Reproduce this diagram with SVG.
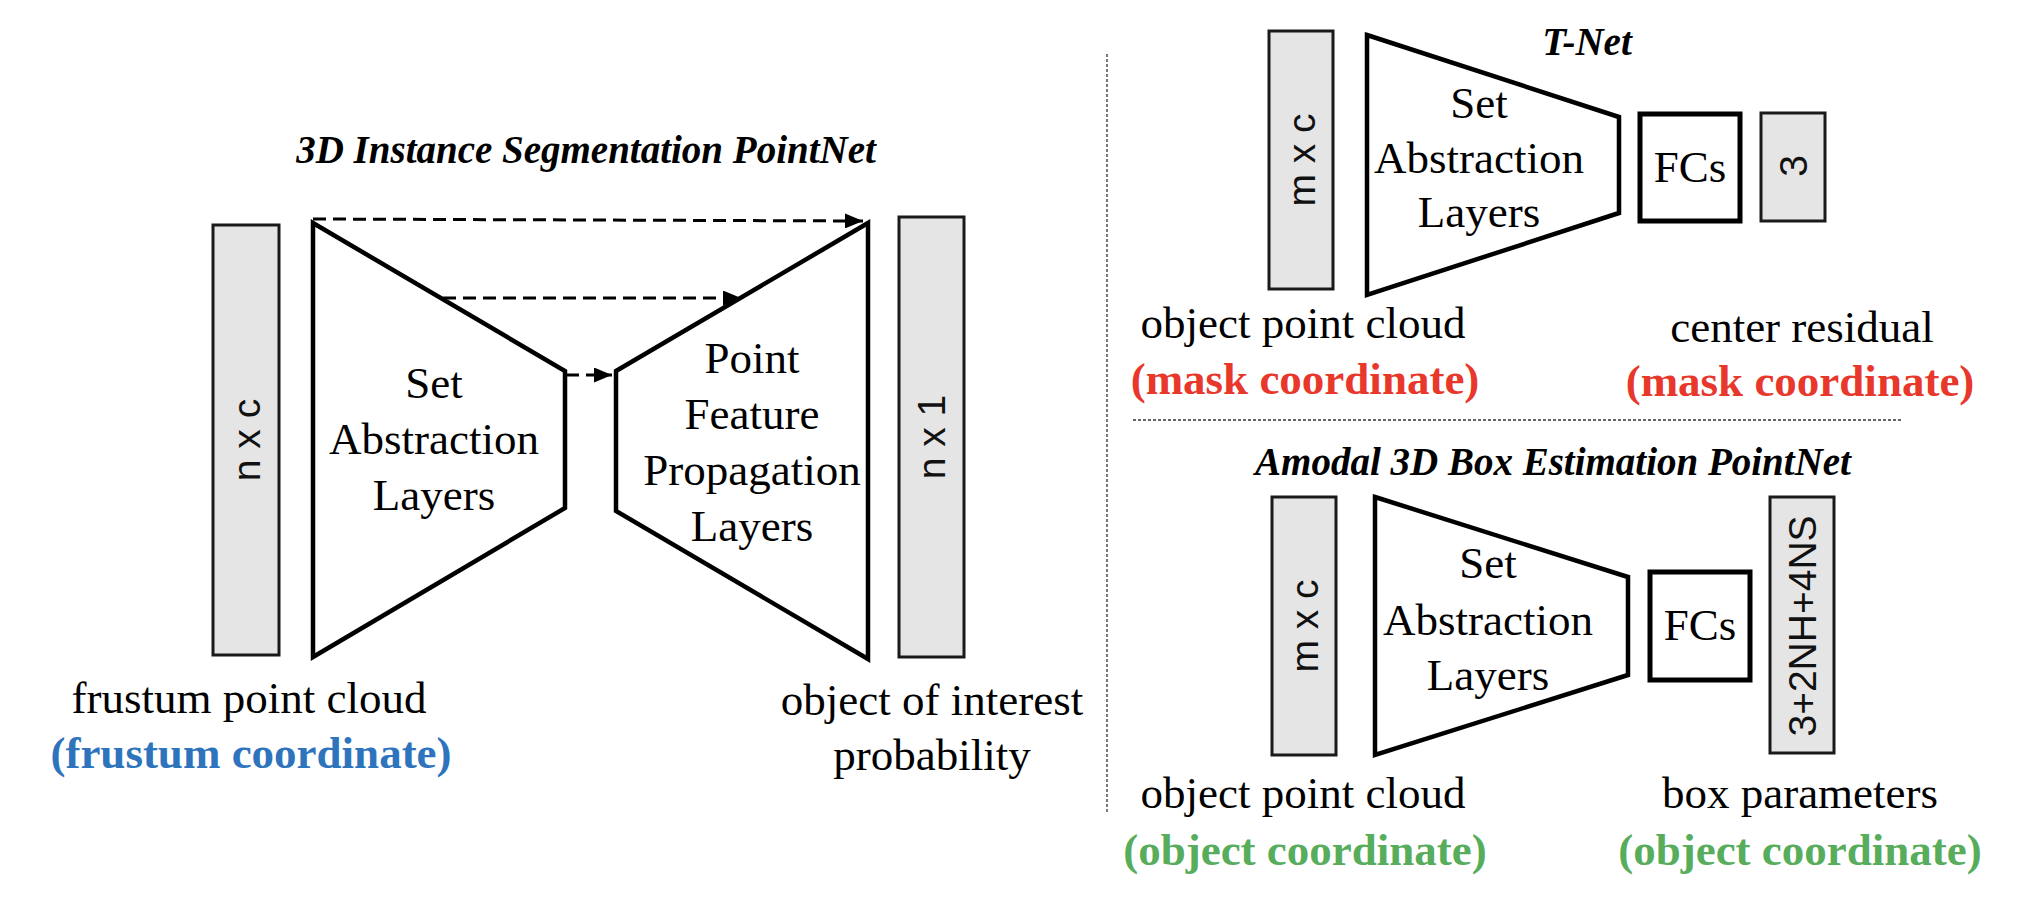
<svg xmlns="http://www.w3.org/2000/svg" width="2018" height="920" viewBox="0 0 2018 920">
<style>
.bg{fill:#ffffff}
.vec{fill:#e5e5e5;stroke:#1a1a1a;stroke-width:3}
.trap{fill:#ffffff;stroke:#000000;stroke-width:4.5;stroke-linejoin:miter}
.fc{fill:#ffffff;stroke:#000000;stroke-width:5}
.t{font-family:"Liberation Serif","Times New Roman",serif;font-size:45px;fill:#000;text-anchor:middle}
.title{font-family:"Liberation Serif","Times New Roman",serif;font-size:39px;font-weight:bold;font-style:italic;fill:#000;text-anchor:middle}
.dim{font-family:"Liberation Sans",Arial,sans-serif;font-size:39px;fill:#111;text-anchor:middle;dominant-baseline:central}
.blue{font-family:"Liberation Serif","Times New Roman",serif;font-size:45px;font-weight:bold;fill:#2e74bd;text-anchor:middle}
.red{font-family:"Liberation Serif","Times New Roman",serif;font-size:45px;font-weight:bold;fill:#e8372b;text-anchor:middle}
.green{font-family:"Liberation Serif","Times New Roman",serif;font-size:45px;font-weight:bold;fill:#57ad5c;text-anchor:middle}
.dash{fill:none;stroke:#000;stroke-width:3;stroke-dasharray:13 7}
.sep{fill:none;stroke:#333;stroke-width:1.3;stroke-dasharray:3 2}
</style>
<defs>
<marker id="ah" markerWidth="6" markerHeight="5" refX="6" refY="2.5" orient="auto" markerUnits="strokeWidth">
<path d="M0,0 L6,2.5 L0,5 Z" fill="#000"/>
</marker>
</defs>
<rect class="bg" x="0" y="0" width="2018" height="920"/>

<g id="separators">
<line class="sep" x1="1107" y1="54" x2="1107" y2="813"/>
<line class="sep" x1="1133" y1="420" x2="1902" y2="420"/>
</g>

<!-- Left: 3D Instance Segmentation PointNet -->
<text class="title" x="586" y="163">3D Instance Segmentation PointNet</text>

<g id="seg-input">
<rect class="vec" x="213" y="225" width="66" height="430"/>
<text class="dim" transform="translate(246,440) rotate(-90)">n x c</text>
<text class="t" x="249" y="713">frustum point cloud</text>
<text class="blue" x="251" y="768">(frustum coordinate)</text>
</g>

<g id="seg-sa">
<polygon class="trap" points="313,223 565,371 565,508 313,657"/>
<text class="t" x="434" y="398">Set</text>
<text class="t" x="434" y="454">Abstraction</text>
<text class="t" x="434" y="510">Layers</text>
</g>

<g id="seg-fp">
<polygon class="trap" points="616,371 868,223 868,659 616,511"/>
<text class="t" x="752" y="373">Point</text>
<text class="t" x="752" y="429">Feature</text>
<text class="t" x="752" y="485">Propagation</text>
<text class="t" x="752" y="541">Layers</text>
</g>

<g id="seg-output">
<rect class="vec" x="899" y="217" width="65" height="440"/>
<text class="dim" transform="translate(931,437) rotate(-90)">n x 1</text>
<text class="t" x="932" y="715">object of interest</text>
<text class="t" x="932" y="770">probability</text>
</g>

<g id="connectors">
<line class="dash" x1="313" y1="219" x2="863" y2="221" marker-end="url(#ah)"/>
<line class="dash" x1="443" y1="298" x2="741" y2="298" marker-end="url(#ah)"/>
<line class="dash" x1="566" y1="375" x2="612" y2="375" marker-end="url(#ah)"/>
</g>

<!-- Top right: T-Net -->
<text class="title" x="1587" y="55">T-Net</text>

<g id="tnet-input">
<rect class="vec" x="1269" y="31" width="64" height="258"/>
<text class="dim" transform="translate(1301,160) rotate(-90)">m x c</text>
<text class="t" x="1303" y="338">object point cloud</text>
<text class="red" x="1305" y="394">(mask coordinate)</text>
</g>

<g id="tnet-sa">
<polygon class="trap" points="1367,35 1619,117 1619,213 1367,295"/>
<text class="t" x="1479" y="118">Set</text>
<text class="t" x="1479" y="173">Abstraction</text>
<text class="t" x="1479" y="227">Layers</text>
</g>

<g id="tnet-fc">
<rect class="fc" x="1640" y="114" width="100" height="107"/>
<text class="t" x="1690" y="182">FCs</text>
</g>

<g id="tnet-output">
<rect class="vec" x="1761" y="113" width="64" height="108"/>
<text class="dim" transform="translate(1793,166) rotate(-90)">3</text>
<text class="t" x="1802" y="342">center residual</text>
<text class="red" x="1800" y="396">(mask coordinate)</text>
</g>

<!-- Bottom right: Amodal 3D Box Estimation PointNet -->
<text class="title" x="1553" y="475">Amodal 3D Box Estimation PointNet</text>

<g id="box-input">
<rect class="vec" x="1272" y="497" width="64" height="258"/>
<text class="dim" transform="translate(1304,626) rotate(-90)">m x c</text>
<text class="t" x="1303" y="808">object point cloud</text>
<text class="green" x="1305" y="865">(object coordinate)</text>
</g>

<g id="box-sa">
<polygon class="trap" points="1375,497 1628,577 1628,675 1375,755"/>
<text class="t" x="1488" y="578">Set</text>
<text class="t" x="1488" y="635">Abstraction</text>
<text class="t" x="1488" y="690">Layers</text>
</g>

<g id="box-fc">
<rect class="fc" x="1650" y="572" width="100" height="108"/>
<text class="t" x="1700" y="640">FCs</text>
</g>

<g id="box-output">
<rect class="vec" x="1770" y="497" width="64" height="256"/>
<text class="dim" transform="translate(1802,626) rotate(-90)">3+2NH+4NS</text>
<text class="t" x="1800" y="808">box parameters</text>
<text class="green" x="1800" y="865">(object coordinate)</text>
</g>
</svg>
